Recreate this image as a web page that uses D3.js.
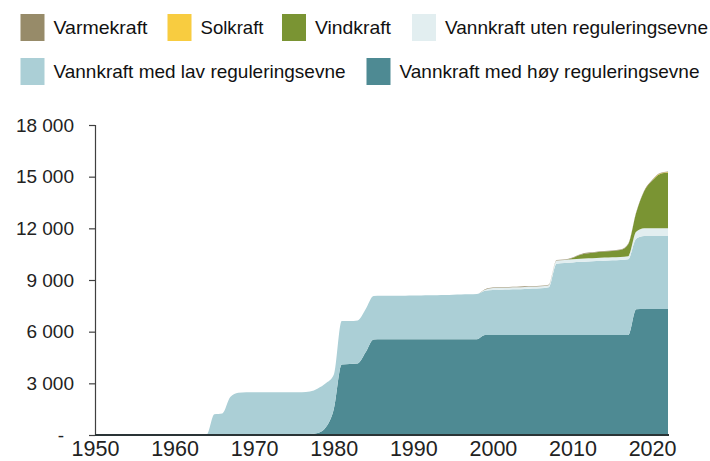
<!DOCTYPE html>
<html><head><meta charset="utf-8">
<script src="https://cdn.jsdelivr.net/npm/d3@7/dist/d3.min.js"></script>
<style>
html,body{margin:0;padding:0;background:#fff;}
svg{display:block;}
</style></head>
<body><svg id="chart" width="710" height="461"></svg>
<script>
const years = [1950,1951,1952,1953,1954,1955,1956,1957,1958,1959,
1960,1961,1962,1963,1964,1965,1966,1967,1968,1969,
1970,1971,1972,1973,1974,1975,1976,1977,1978,1979,
1980,1981,1982,1983,1984,1985,1986,1987,1988,1989,
1990,1991,1992,1993,1994,1995,1996,1997,1998,1999,
2000,2001,2002,2003,2004,2005,2006,2007,2008,2009,
2010,2011,2012,2013,2014,2015,2016,2017,2018,2019,
2020,2021,2022];

const hoy = [0,0,0,0,0,0,0,0,0,0,
0,0,0,0,0,0,20,60,60,60,
60,60,60,60,60,60,60,60,120,450,
1500,4100,4120,4150,4800,5550,5560,5560,5560,5560,
5560,5560,5560,5560,5560,5560,5560,5560,5560,5800,
5800,5800,5800,5800,5800,5800,5800,5800,5800,5800,
5800,5800,5800,5800,5800,5800,5800,5800,7300,7320,
7320,7320,7320];

const lav = [0,0,0,0,0,0,0,0,0,0,
0,0,0,0,0,1200,1230,2140,2390,2420,
2420,2420,2420,2420,2420,2420,2420,2460,2580,2550,
2000,2520,2500,2500,2500,2520,2520,2520,2530,2530,
2540,2540,2550,2560,2570,2590,2600,2610,2630,2580,
2620,2640,2650,2660,2680,2700,2720,2780,4150,4180,
4220,4260,4280,4300,4320,4340,4360,4400,4100,4230,
4240,4240,4240];

const uten = [0,0,0,0,0,0,0,0,0,0,
0,0,0,0,0,0,0,0,0,0,
0,0,0,0,0,0,0,0,0,0,
0,0,0,0,0,0,0,0,0,0,
0,0,0,0,0,0,0,0,0,60,
120,120,120,120,120,120,120,120,180,180,
180,180,180,180,180,180,180,180,400,450,
450,450,450];

const vind = [0,0,0,0,0,0,0,0,0,0,
0,0,0,0,0,0,0,0,0,0,
0,0,0,0,0,0,0,0,0,0,
0,0,0,0,0,0,0,0,0,0,
0,0,0,0,0,0,0,0,0,0,
0,0,0,0,0,0,0,0,0,0,
80,230,300,330,350,370,400,700,1100,2150,
2750,3150,3230];

const sol = [0,0,0,0,0,0,0,0,0,0,
0,0,0,0,0,0,0,0,0,0,
0,0,0,0,0,0,0,0,0,0,
0,0,0,0,0,0,0,0,0,0,
0,0,0,0,0,0,0,0,0,0,
0,0,0,0,0,0,0,0,0,0,
0,0,0,0,0,0,0,0,0,0,
10,20,30];

const varme = [0,0,0,0,0,0,0,0,0,0,
0,0,0,0,0,0,0,0,0,0,
0,0,0,0,0,0,0,0,0,0,
0,0,0,0,0,0,0,0,0,0,
0,0,0,0,0,0,0,0,0,30,
30,30,30,30,30,30,30,30,30,30,
30,30,30,30,30,30,30,30,30,30,
30,30,30];

const seriesNames = ["Vannkraft med høy reguleringsevne","Vannkraft med lav reguleringsevne","Vannkraft uten reguleringsevne","Vindkraft","Solkraft","Varmekraft"];
const seriesValues = [hoy, lav, uten, vind, sol, varme];
const colors = {
  "Varmekraft":"#978b69",
  "Solkraft":"#f8cc40",
  "Vindkraft":"#7a9433",
  "Vannkraft uten reguleringsevne":"#e2eef0",
  "Vannkraft med lav reguleringsevne":"#abcfd6",
  "Vannkraft med høy reguleringsevne":"#4e8a93"
};
const legendRows = [
  ["Varmekraft","Solkraft","Vindkraft","Vannkraft uten reguleringsevne"],
  ["Vannkraft med lav reguleringsevne","Vannkraft med høy reguleringsevne"]
];
const yTicks = [0,3000,6000,9000,12000,15000,18000];
const xTicks = [1950,1960,1970,1980,1990,2000,2010,2020];

const table = years.map((y,i)=>{
  const row = {year:y};
  seriesNames.forEach((n,k)=>row[n]=seriesValues[k][i]);
  return row;
});

const svg = d3.select("#chart");
const x = d3.scaleLinear().domain([1950,2022]).range([95,668]);
const y = d3.scaleLinear().domain([0,18000]).range([435,125]);

const stack = d3.stack().keys(seriesNames);
const layers = stack(table);
const area = d3.area()
  .x(d=>x(d.data.year))
  .y0(d=>y(d[0]))
  .y1(d=>y(d[1]))
  .curve(d3.curveMonotoneX);

svg.append("g").selectAll("path").data(layers).join("path")
  .attr("d", area)
  .attr("fill", d=>colors[d.key]);

// y axis
const yAxis = d3.axisLeft(y).tickValues(yTicks).tickSize(6).tickPadding(15)
  .tickFormat(v=> v===0 ? "-" : d3.format(",")(v).replace(/,/g," "));
const gy = svg.append("g").attr("transform","translate(95,0)").call(yAxis);
gy.select(".domain").attr("stroke","#404040").attr("stroke-width",1.2).attr("d","M-6,125.5H0.5V435");
gy.selectAll(".tick line").attr("stroke","#404040").attr("stroke-width",1.2);
gy.selectAll(".tick text").attr("font-family","'Liberation Sans', Arial, sans-serif")
  .attr("font-size","19px").attr("fill","#222");
gy.selectAll(".tick").filter(d=>d===0).select("text").attr("x",-31);

// x axis
const xAxis = d3.axisBottom(x).tickValues(xTicks).tickSize(0).tickPadding(6).tickFormat(d3.format("d"));
const gx = svg.append("g").attr("transform","translate(0,435)").call(xAxis);
gx.select(".domain").attr("stroke","#2a3436").attr("stroke-width",2).attr("d","M95,0H669");
gx.selectAll(".tick text").attr("font-family","'Liberation Sans', Arial, sans-serif")
  .attr("font-size","21.5px").attr("fill","#222");

// legend
const legendX = [[20.5,167.5,282,412],[20.5,366.5]];
const legendY = [14,58];
const legendTextW = {
  "Varmekraft":94,"Solkraft":63,"Vindkraft":76,
  "Vannkraft uten reguleringsevne":263,
  "Vannkraft med lav reguleringsevne":292,
  "Vannkraft med høy reguleringsevne":300
};
legendRows.forEach((row,r)=>{
  row.forEach((name,c)=>{
    const g = svg.append("g").attr("transform",`translate(${legendX[r][c]},${legendY[r]})`);
    g.append("rect").attr("width",24).attr("height",27).attr("fill",colors[name]);
    g.append("text").attr("x",33).attr("y",19.8)
      .attr("font-family","'Liberation Sans', Arial, sans-serif")
      .attr("font-size","19px").attr("fill","#111")
      .attr("textLength",legendTextW[name]).attr("lengthAdjust","spacingAndGlyphs")
      .text(name);
  });
});
</script></body></html>
